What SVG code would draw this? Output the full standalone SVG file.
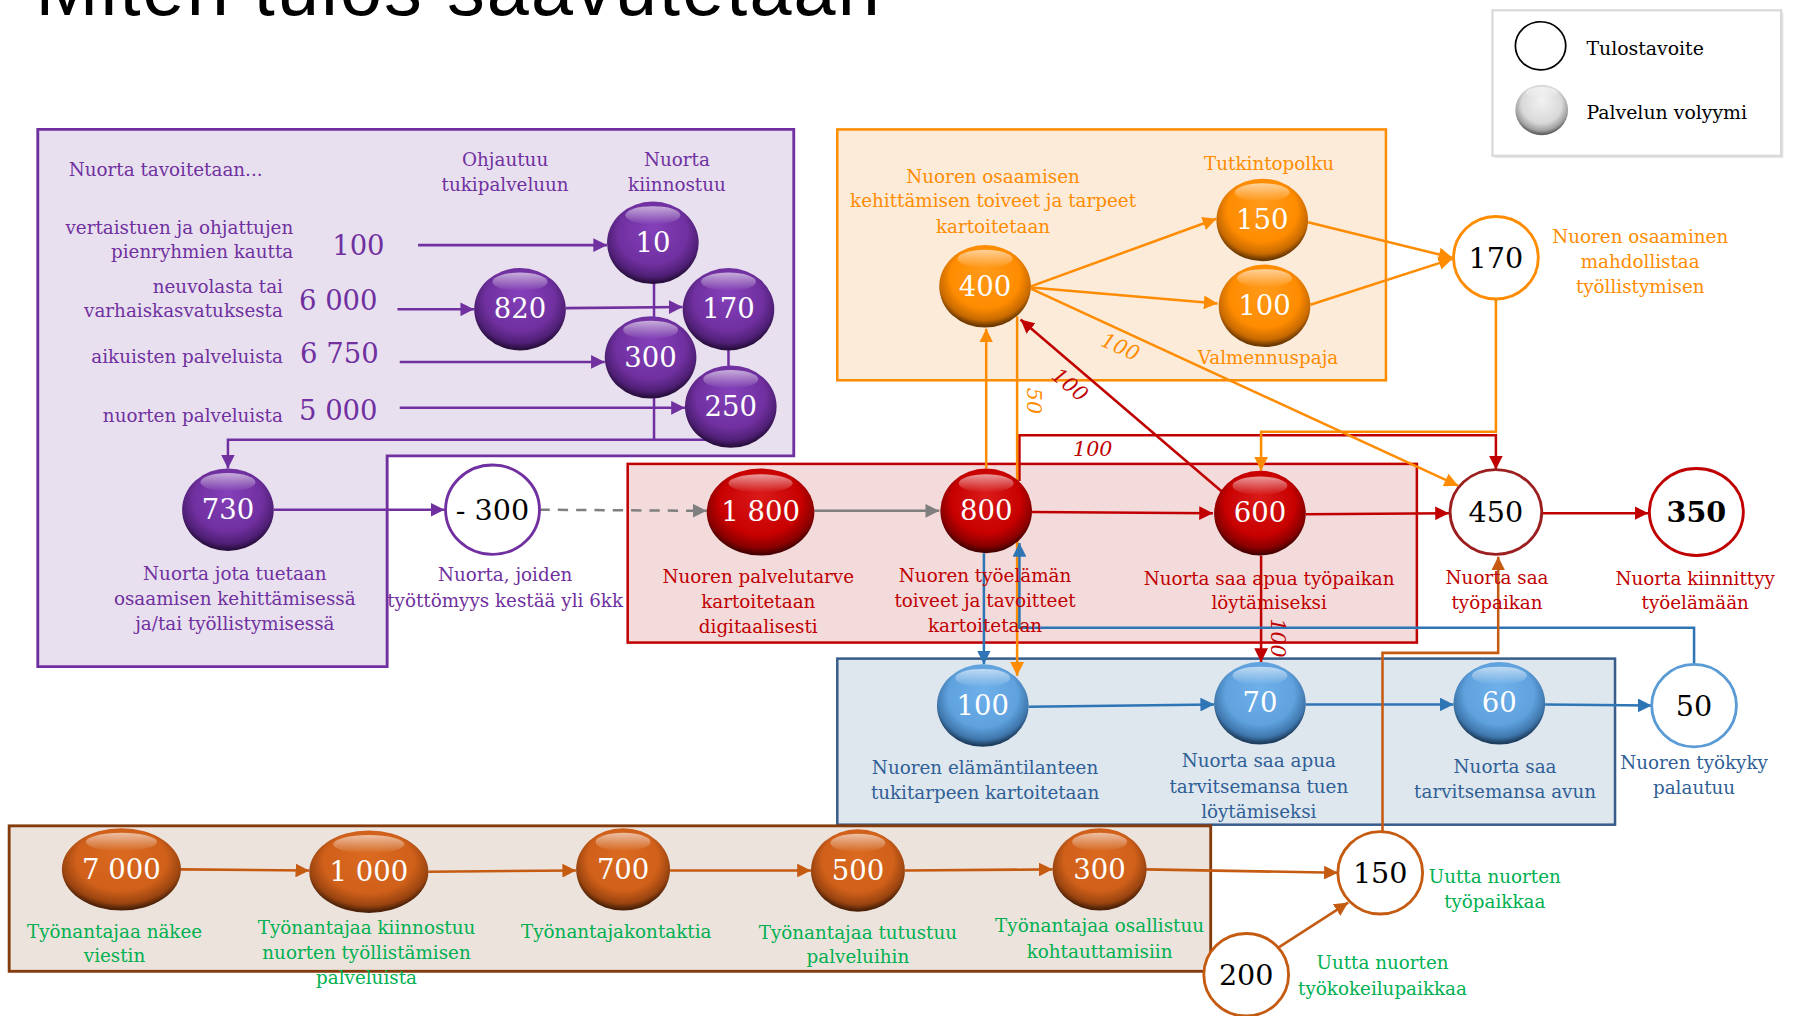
<svg xmlns="http://www.w3.org/2000/svg" width="1796" height="1016" viewBox="0 0 1796 1016">
<defs>
<style>
text{font-family:"DejaVu Serif","Liberation Serif",serif}
.lb{font-size:16px;text-anchor:middle}
.le{font-size:16px;text-anchor:end}
.ls{font-size:16.5px;text-anchor:start;fill:#000}
.nw{font-size:24px;fill:#fff;text-anchor:middle}
.nk{font-size:25px;fill:#000;text-anchor:middle}
.big{font-size:24px;fill:#7030A0;text-anchor:start}
.it{font-style:italic;font-size:18px;text-anchor:middle}
.cPu{fill:#7030A0}.cOr{fill:#FF8C00}.cRd{fill:#C00000}.cBl{fill:#2F5F96}.cGr{fill:#00B050}
.c{fill:none;stroke-width:2.2}
.sPu{stroke:#7030A0}.sGy{stroke:#7F7F7F}.sRd{stroke:#C00000}.sOr{stroke:#FF8C00}.sBl{stroke:#2E75B6}.sBr{stroke:#C55A11}
.fPu{fill:url(#gPu)}.fRd{fill:url(#gRd)}.fOr{fill:url(#gOr)}.fBl{fill:url(#gBl)}.fBr{fill:url(#gBr)}.fGy{fill:url(#gGy)}
.hl{fill:url(#gHl)}
.oc{fill:#fff;stroke-width:2.5}
</style>
<radialGradient id="gPu" cx="0.5" cy="0.42" r="0.56" fx="0.5" fy="0.3"><stop offset="0" stop-color="#8440BA"/><stop offset="0.68" stop-color="#7030A0"/><stop offset="0.9" stop-color="#4F1F75"/><stop offset="1" stop-color="#2A0F40"/></radialGradient>
<radialGradient id="gRd" cx="0.5" cy="0.42" r="0.56" fx="0.5" fy="0.3"><stop offset="0" stop-color="#DA1A1A"/><stop offset="0.68" stop-color="#C80000"/><stop offset="0.9" stop-color="#8A0000"/><stop offset="1" stop-color="#4A0000"/></radialGradient>
<radialGradient id="gOr" cx="0.5" cy="0.42" r="0.56" fx="0.5" fy="0.3"><stop offset="0" stop-color="#FF9A1A"/><stop offset="0.68" stop-color="#FF8C00"/><stop offset="0.9" stop-color="#C86A00"/><stop offset="1" stop-color="#6E3A00"/></radialGradient>
<radialGradient id="gBl" cx="0.5" cy="0.42" r="0.56" fx="0.5" fy="0.3"><stop offset="0" stop-color="#6DB0EA"/><stop offset="0.68" stop-color="#5FA2DE"/><stop offset="0.9" stop-color="#3F77AD"/><stop offset="1" stop-color="#1F3F60"/></radialGradient>
<radialGradient id="gBr" cx="0.5" cy="0.42" r="0.56" fx="0.5" fy="0.3"><stop offset="0" stop-color="#DA6A20"/><stop offset="0.68" stop-color="#D0601A"/><stop offset="0.9" stop-color="#9A4410"/><stop offset="1" stop-color="#4E2208"/></radialGradient>
<radialGradient id="gGy" cx="0.5" cy="0.42" r="0.56" fx="0.5" fy="0.3"><stop offset="0" stop-color="#F2F2F2"/><stop offset="0.68" stop-color="#D9D9D9"/><stop offset="0.9" stop-color="#A0A0A0"/><stop offset="1" stop-color="#606060"/></radialGradient>
<linearGradient id="gHl" x1="0" y1="0" x2="0" y2="1"><stop offset="0" stop-color="#fff" stop-opacity="0.6"/><stop offset="1" stop-color="#fff" stop-opacity="0"/></linearGradient>
<marker id="aPu" viewBox="0 0 10 10" refX="10" refY="5" markerWidth="12" markerHeight="12" markerUnits="userSpaceOnUse" orient="auto"><path d="M0,0L10,5L0,10z" fill="#7030A0"/></marker>
<marker id="aGy" viewBox="0 0 10 10" refX="10" refY="5" markerWidth="12" markerHeight="12" markerUnits="userSpaceOnUse" orient="auto"><path d="M0,0L10,5L0,10z" fill="#7F7F7F"/></marker>
<marker id="aRd" viewBox="0 0 10 10" refX="10" refY="5" markerWidth="12" markerHeight="12" markerUnits="userSpaceOnUse" orient="auto"><path d="M0,0L10,5L0,10z" fill="#C00000"/></marker>
<marker id="aOr" viewBox="0 0 10 10" refX="10" refY="5" markerWidth="12" markerHeight="12" markerUnits="userSpaceOnUse" orient="auto"><path d="M0,0L10,5L0,10z" fill="#FF8C00"/></marker>
<marker id="aBl" viewBox="0 0 10 10" refX="10" refY="5" markerWidth="12" markerHeight="12" markerUnits="userSpaceOnUse" orient="auto"><path d="M0,0L10,5L0,10z" fill="#2E75B6"/></marker>
<marker id="aBr" viewBox="0 0 10 10" refX="10" refY="5" markerWidth="12" markerHeight="12" markerUnits="userSpaceOnUse" orient="auto"><path d="M0,0L10,5L0,10z" fill="#C55A11"/></marker>
</defs>
<rect width="1796" height="1016" fill="#fff"/>
<g transform="scale(1.14541)">
<text id="title" x="31" y="13" style="font-family:'Liberation Sans',sans-serif" font-size="66" textLength="737" lengthAdjust="spacing" fill="#000">Miten tulos saavutetaan</text>

<g id="legend">
<rect x="1305" y="11" width="252" height="127" fill="#E6E6E6"/>
<rect x="1303" y="9" width="252" height="127" fill="#fff" stroke="#D9D9D9" stroke-width="2"/>
<ellipse cx="1345" cy="40" rx="22" ry="21" fill="#fff" stroke="#000" stroke-width="1.5"/>
<text class="ls" x="1385" y="48">Tulostavoite</text>
<ellipse class="fGy" cx="1346" cy="96" rx="23" ry="22"/>
<ellipse class="hl" cx="1346" cy="81" rx="14" ry="5"/>
<text class="ls" x="1385" y="104">Palvelun volyymi</text>
</g>

<g id="boxes">
<polygon points="33,113 693,113 693,398 338,398 338,582 33,582" fill="#E8E0EF" stroke="#7030A0" stroke-width="2.5"/>
<rect x="731" y="113" width="479" height="219" fill="#FDEBDA" stroke="#FF8C00" stroke-width="2.2"/>
<rect x="548" y="405" width="689" height="156" fill="#F3DADB" stroke="#C00000" stroke-width="2.2"/>
<rect x="731" y="575" width="679" height="145" fill="#DEE6EE" stroke="#385D8A" stroke-width="2.2"/>
<rect x="8" y="721" width="1049" height="127" fill="#EDE3DD" stroke="#843C0C" stroke-width="2.5"/>
</g>

<g id="box-texts">
<text class="ls cPu" x="60" y="154" style="font-size:16px">Nuorta tavoitetaan...</text>
<text class="lb cPu" x="441" y="145">Ohjautuu</text>
<text class="lb cPu" x="441" y="167">tukipalveluun</text>
<text class="lb cPu" x="591" y="145">Nuorta</text>
<text class="lb cPu" x="591" y="167">kiinnostuu</text>
<text class="le cPu" x="256" y="204">vertaistuen ja ohjattujen</text>
<text class="le cPu" x="256" y="225">pienryhmien kautta</text>
<text class="big" x="290" y="223">100</text>
<text class="le cPu" x="247" y="256">neuvolasta tai</text>
<text class="le cPu" x="247" y="277">varhaiskasvatuksesta</text>
<text class="big" x="261" y="271">6 000</text>
<text class="le cPu" x="247" y="317">aikuisten palveluista</text>
<text class="big" x="262" y="317">6 750</text>
<text class="le cPu" x="247" y="368">nuorten palveluista</text>
<text class="big" x="261" y="367">5 000</text>
<text class="lb cOr" x="867" y="160">Nuoren osaamisen</text>
<text class="lb cOr" x="867" y="181">kehittämisen toiveet ja tarpeet</text>
<text class="lb cOr" x="867" y="203">kartoitetaan</text>
<text class="lb cOr" x="1108" y="148">Tutkintopolku</text>
<text class="lb cOr" x="1107" y="318">Valmennuspaja</text>
</g>

<g id="connectors">
<path class="c sPu" d="M365,214H530" marker-end="url(#aPu)"/>
<path class="c sPu" d="M347,270H414" marker-end="url(#aPu)"/>
<path class="c sPu" d="M494,269L596,268" marker-end="url(#aPu)"/>
<path class="c sPu" d="M571,247V280"/>
<path class="c sPu" d="M349,316H528" marker-end="url(#aPu)"/>
<path class="c sPu" d="M636,304V321"/>
<path class="c sPu" d="M349,356H598" marker-end="url(#aPu)"/>
<path class="c sPu" d="M625,384H199V409" marker-end="url(#aPu)"/>
<path class="c sPu" d="M571,346V384"/>
<path class="c sPu" d="M239,445H388" marker-end="url(#aPu)"/>
<path class="c sGy" d="M471,445L617,446" stroke-dasharray="9,7" marker-end="url(#aGy)"/>
<path class="c sGy" d="M711,446H820" marker-end="url(#aGy)"/>
<path class="c sRd" d="M901,447L1059,448" marker-end="url(#aRd)"/>
<path class="c sRd" d="M1140,449L1265,448" marker-end="url(#aRd)"/>
<path class="c sRd" d="M1346,448H1439" marker-end="url(#aRd)"/>
<path class="c sRd" d="M890,420V380H1306V410" marker-end="url(#aRd)"/>
<path class="c sRd" d="M1070,432L891,279" marker-end="url(#aRd)"/>
<path class="c sRd" d="M1101,485V578" marker-end="url(#aRd)"/>
<path class="c sOr" d="M900,250L1062,191" marker-end="url(#aOr)"/>
<path class="c sOr" d="M900,251L1063,265" marker-end="url(#aOr)"/>
<path class="c sOr" d="M1142,194L1268,225" marker-end="url(#aOr)"/>
<path class="c sOr" d="M1144,266L1268,226" marker-end="url(#aOr)"/>
<path class="c sOr" d="M900,252L1273,424" marker-end="url(#aOr)"/>
<path class="c sOr" d="M1306,261V377H1101V411" marker-end="url(#aOr)"/>
<path class="c sOr" d="M861,409V287" marker-end="url(#aOr)"/>
<path class="c sOr" d="M888,276V590" marker-end="url(#aOr)"/>
<path class="c sBl" d="M859,483V580" marker-end="url(#aBl)"/>
<path class="c sBl" d="M1479,580V548H890V474" marker-end="url(#aBl)"/>
<path class="c sBl" d="M898,617L1060,615" marker-end="url(#aBl)"/>
<path class="c sBl" d="M1140,615H1269" marker-end="url(#aBl)"/>
<path class="c sBl" d="M1349,615L1442,616" marker-end="url(#aBl)"/>
<path class="c sBr" d="M158,759L270,760" marker-end="url(#aBr)"/>
<path class="c sBr" d="M374,761L503,760" marker-end="url(#aBr)"/>
<path class="c sBr" d="M585,760H708" marker-end="url(#aBr)"/>
<path class="c sBr" d="M790,760L919,759" marker-end="url(#aBr)"/>
<path class="c sBr" d="M1000,759L1168,762" marker-end="url(#aBr)"/>
<path class="c sBr" d="M1115,828L1177,788" marker-end="url(#aBr)"/>
<path class="c sBr" d="M1207,726V570H1308V486" marker-end="url(#aBr)"/>
<text class="it cRd" x="954" y="398">100</text>
<text class="it cRd" transform="translate(934,336) rotate(40)" x="0" y="6">100</text>
<text class="it cOr" transform="translate(978,303) rotate(24)" x="0" y="6">100</text>
<text class="it cOr" transform="translate(903,350) rotate(90)" x="0" y="6">50</text>
<text class="it cRd" transform="translate(1116,557) rotate(90)" x="0" y="6">100</text>
</g>

<g id="n-10"><ellipse class="fPu" cx="570" cy="212" rx="40" ry="36"/><ellipse class="hl" cx="570" cy="188" rx="24" ry="8"/><text class="nw" x="570" y="220">10</text></g>
<g id="n-820"><ellipse class="fPu" cx="454" cy="270" rx="40" ry="36"/><ellipse class="hl" cx="454" cy="246" rx="24" ry="8"/><text class="nw" x="454" y="278">820</text></g>
<g id="n-300p"><ellipse class="fPu" cx="568" cy="312" rx="40" ry="36"/><ellipse class="hl" cx="568" cy="288" rx="24" ry="8"/><text class="nw" x="568" y="320">300</text></g>
<g id="n-170p"><ellipse class="fPu" cx="636" cy="270" rx="40" ry="36"/><ellipse class="hl" cx="636" cy="246" rx="24" ry="8"/><text class="nw" x="636" y="278">170</text></g>
<g id="n-250"><ellipse class="fPu" cx="638" cy="355" rx="40" ry="36"/><ellipse class="hl" cx="638" cy="331" rx="24" ry="8"/><text class="nw" x="638" y="363">250</text></g>
<g id="n-730"><ellipse class="fPu" cx="199" cy="445" rx="40" ry="36"/><ellipse class="hl" cx="199" cy="421" rx="24" ry="8"/><text class="nw" x="199" y="453">730</text>
<text class="lb cPu" x="205" y="506">Nuorta jota tuetaan</text><text class="lb cPu" x="205" y="528">osaamisen kehittämisessä</text><text class="lb cPu" x="205" y="550">ja/tai työllistymisessä</text></g>
<g id="n-m300"><ellipse class="oc" cx="430" cy="445" rx="41" ry="39" stroke="#7030A0"/><text class="nk" x="430" y="454">- 300</text>
<text class="lb cPu" x="441" y="507">Nuorta, joiden</text><text class="lb cPu" x="441" y="530">työttömyys kestää yli 6kk</text></g>

<g id="n-1800"><ellipse class="fRd" cx="664" cy="447" rx="47" ry="38"/><ellipse class="hl" cx="664" cy="422" rx="28" ry="8"/><text class="nw" x="664" y="455">1 800</text>
<text class="lb cRd" x="662" y="509">Nuoren palvelutarve</text><text class="lb cRd" x="662" y="531">kartoitetaan</text><text class="lb cRd" x="662" y="553">digitaalisesti</text></g>
<g id="n-800"><ellipse class="fRd" cx="861" cy="446" rx="40" ry="37"/><ellipse class="hl" cx="861" cy="422" rx="24" ry="8"/><text class="nw" x="861" y="454">800</text>
<text class="lb cRd" x="860" y="508">Nuoren työelämän</text><text class="lb cRd" x="860" y="530">toiveet ja tavoitteet</text><text class="lb cRd" x="860" y="552">kartoitetaan</text></g>
<g id="n-600"><ellipse class="fRd" cx="1100" cy="448" rx="40" ry="37"/><ellipse class="hl" cx="1100" cy="424" rx="24" ry="8"/><text class="nw" x="1100" y="456">600</text>
<text class="lb cRd" x="1108" y="511">Nuorta saa apua työpaikan</text><text class="lb cRd" x="1108" y="532">löytämiseksi</text></g>
<g id="n-450"><ellipse class="oc" cx="1306" cy="447" rx="40" ry="37" stroke="#9C1F1F"/><text class="nk" x="1306" y="456">450</text>
<text class="lb cRd" x="1307" y="510">Nuorta saa</text><text class="lb cRd" x="1307" y="532">työpaikan</text></g>
<g id="n-350"><ellipse class="oc" cx="1481" cy="447" rx="41" ry="38" stroke="#C00000"/><text class="nk" x="1481" y="456" font-weight="bold">350</text>
<text class="lb cRd" x="1480" y="511">Nuorta kiinnittyy</text><text class="lb cRd" x="1480" y="532">työelämään</text></g>

<g id="n-400"><ellipse class="fOr" cx="860" cy="250" rx="40" ry="36"/><ellipse class="hl" cx="860" cy="226" rx="24" ry="8"/><text class="nw" x="860" y="258">400</text></g>
<g id="n-150o"><ellipse class="fOr" cx="1102" cy="192" rx="40" ry="36"/><ellipse class="hl" cx="1102" cy="168" rx="24" ry="8"/><text class="nw" x="1102" y="200">150</text></g>
<g id="n-100o"><ellipse class="fOr" cx="1104" cy="267" rx="40" ry="36"/><ellipse class="hl" cx="1104" cy="243" rx="24" ry="8"/><text class="nw" x="1104" y="275">100</text></g>
<g id="n-170o"><ellipse class="oc" cx="1306" cy="225" rx="37" ry="36" stroke="#FF8C00"/><text class="nk" x="1306" y="234">170</text>
<text class="lb cOr" x="1432" y="212">Nuoren osaaminen</text><text class="lb cOr" x="1432" y="234">mahdollistaa</text><text class="lb cOr" x="1432" y="256">työllistymisen</text></g>

<g id="n-100b"><ellipse class="fBl" cx="858" cy="616" rx="40" ry="36"/><ellipse class="hl" cx="858" cy="592" rx="24" ry="8"/><text class="nw" x="858" y="624">100</text>
<text class="lb cBl" x="860" y="676">Nuoren elämäntilanteen</text><text class="lb cBl" x="860" y="698">tukitarpeen kartoitetaan</text></g>
<g id="n-70"><ellipse class="fBl" cx="1100" cy="614" rx="40" ry="36"/><ellipse class="hl" cx="1100" cy="590" rx="24" ry="8"/><text class="nw" x="1100" y="622">70</text>
<text class="lb cBl" x="1099" y="670">Nuorta saa apua</text><text class="lb cBl" x="1099" y="692">tarvitsemansa tuen</text><text class="lb cBl" x="1099" y="714">löytämiseksi</text></g>
<g id="n-60"><ellipse class="fBl" cx="1309" cy="614" rx="40" ry="36"/><ellipse class="hl" cx="1309" cy="590" rx="24" ry="8"/><text class="nw" x="1309" y="622">60</text>
<text class="lb cBl" x="1314" y="675">Nuorta saa</text><text class="lb cBl" x="1314" y="697">tarvitsemansa avun</text></g>
<g id="n-50"><ellipse class="oc" cx="1479" cy="616" rx="37" ry="36" stroke="#5B9BD5"/><text class="nk" x="1479" y="625">50</text>
<text class="lb cBl" x="1479" y="671">Nuoren työkyky</text><text class="lb cBl" x="1479" y="693">palautuu</text></g>

<g id="n-7000"><ellipse class="fBr" cx="106" cy="759" rx="52" ry="36"/><ellipse class="hl" cx="106" cy="735" rx="31" ry="8"/><text class="nw" x="106" y="767">7 000</text>
<text class="lb cGr" x="100" y="819">Työnantajaa näkee</text><text class="lb cGr" x="100" y="840">viestin</text></g>
<g id="n-1000"><ellipse class="fBr" cx="322" cy="761" rx="52" ry="36"/><ellipse class="hl" cx="322" cy="737" rx="31" ry="8"/><text class="nw" x="322" y="769">1 000</text>
<text class="lb cGr" x="320" y="815">Työnantajaa kiinnostuu</text><text class="lb cGr" x="320" y="837">nuorten työllistämisen</text><text class="lb cGr" x="320" y="859">palveluista</text></g>
<g id="n-700"><ellipse class="fBr" cx="544" cy="759" rx="41" ry="36"/><ellipse class="hl" cx="544" cy="735" rx="24" ry="8"/><text class="nw" x="544" y="767">700</text>
<text class="lb cGr" x="538" y="819">Työnantajakontaktia</text></g>
<g id="n-500"><ellipse class="fBr" cx="749" cy="760" rx="41" ry="36"/><ellipse class="hl" cx="749" cy="736" rx="24" ry="8"/><text class="nw" x="749" y="768">500</text>
<text class="lb cGr" x="749" y="820">Työnantajaa tutustuu</text><text class="lb cGr" x="749" y="841">palveluihin</text></g>
<g id="n-300b"><ellipse class="fBr" cx="960" cy="759" rx="41" ry="36"/><ellipse class="hl" cx="960" cy="735" rx="24" ry="8"/><text class="nw" x="960" y="767">300</text>
<text class="lb cGr" x="960" y="814">Työnantajaa osallistuu</text><text class="lb cGr" x="960" y="836">kohtauttamisiin</text></g>
<g id="n-150b"><ellipse class="oc" cx="1205" cy="762" rx="37" ry="36" stroke="#C55A11"/><text class="nk" x="1205" y="771">150</text>
<text class="lb cGr" x="1305" y="771">Uutta nuorten</text><text class="lb cGr" x="1305" y="793">työpaikkaa</text></g>
<g id="n-200"><ellipse class="oc" cx="1088" cy="851" rx="37" ry="36" stroke="#C55A11"/><text class="nk" x="1088" y="860">200</text>
<text class="lb cGr" x="1207" y="846">Uutta nuorten</text><text class="lb cGr" x="1207" y="869">työkokeilupaikkaa</text></g>
</g>
</svg>
